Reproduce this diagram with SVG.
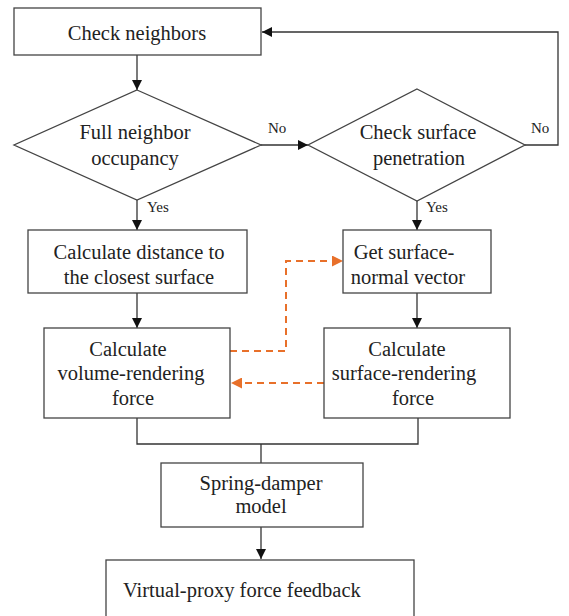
<svg xmlns="http://www.w3.org/2000/svg" width="569" height="616" viewBox="0 0 569 616">
<style>
.box{fill:#fff;stroke:#444;stroke-width:1.3}
.t{font-family:"Liberation Serif","Times New Roman",serif;font-size:20.5px;fill:#222;text-anchor:middle}
.s{font-family:"Liberation Serif","Times New Roman",serif;font-size:15px;fill:#222}
.ln{fill:none;stroke:#333;stroke-width:1.3}
.dash{fill:none;stroke:#E8702A;stroke-width:2;stroke-dasharray:7,5}
</style>
<defs>
<marker id="ah" viewBox="0 0 10 10" refX="10" refY="5" markerWidth="10" markerHeight="10" markerUnits="userSpaceOnUse" orient="auto">
<path d="M0,0 L10,5 L0,10 Z" fill="#111"/>
</marker>
<marker id="ao" viewBox="0 0 10 10" refX="10" refY="5" markerWidth="11" markerHeight="11" markerUnits="userSpaceOnUse" orient="auto">
<path d="M0,0 L10,5 L0,10 Z" fill="#E8702A"/>
</marker>
</defs>
<rect width="569" height="616" fill="#fff"/>
<g id="connectors">
<line class="ln" x1="137" y1="55" x2="137" y2="90" marker-end="url(#ah)"/>
<line class="ln" x1="261" y1="145" x2="308" y2="145" marker-end="url(#ah)"/>
<polyline class="ln" points="525,145 558,145 558,32 262,32" marker-end="url(#ah)"/>
<line class="ln" x1="137" y1="200" x2="137" y2="230" marker-end="url(#ah)"/>
<line class="ln" x1="417" y1="201" x2="417" y2="230" marker-end="url(#ah)"/>
<line class="ln" x1="137" y1="293" x2="137" y2="328" marker-end="url(#ah)"/>
<line class="ln" x1="417" y1="293" x2="417" y2="328" marker-end="url(#ah)"/>
<polyline class="dash" points="230,351 286,351 286,261 343,261" marker-end="url(#ao)"/>
<line class="dash" x1="324" y1="383" x2="231" y2="383" marker-end="url(#ao)"/>
<polyline class="ln" points="137,418 137,444 418,444 418,418"/>
<line class="ln" x1="261" y1="444" x2="261" y2="463"/>
<line class="ln" x1="261" y1="527" x2="261" y2="559" marker-end="url(#ah)"/>
<text class="s" x="268" y="133">No</text>
<text class="s" x="531" y="133">No</text>
<text class="s" x="147" y="212">Yes</text>
<text class="s" x="426" y="212">Yes</text>
</g>
<g id="check-neighbors">
<rect class="box" x="14" y="8" width="247" height="47"/>
<text class="t" x="137" y="40">Check neighbors</text>
</g>
<g id="full-neighbor">
<polygon class="box" points="137,90 261,145 137,200 14,145"/>
<text class="t" x="135" y="139">Full neighbor</text>
<text class="t" x="135" y="165">occupancy</text>
</g>
<g id="check-surface">
<polygon class="box" points="417,89 525,145 417,201 308,145"/>
<text class="t" x="418" y="139">Check surface</text>
<text class="t" x="419" y="165">penetration</text>
</g>
<g id="calc-distance">
<rect class="box" x="28" y="230" width="219" height="63"/>
<text class="t" x="139" y="259">Calculate distance to</text>
<text class="t" x="139" y="284">the closest surface</text>
</g>
<g id="get-normal">
<rect class="box" x="343" y="230" width="148" height="63"/>
<text class="t" x="404" y="259">Get surface-</text>
<text class="t" x="408" y="284">normal vector</text>
</g>
<g id="calc-volume">
<rect class="box" x="44" y="328" width="186" height="90"/>
<text class="t" x="128" y="356">Calculate</text>
<text class="t" x="131" y="380">volume-rendering</text>
<text class="t" x="133" y="405">force</text>
</g>
<g id="calc-surface">
<rect class="box" x="324" y="328" width="186" height="90"/>
<text class="t" x="407" y="356">Calculate</text>
<text class="t" x="404" y="380">surface-rendering</text>
<text class="t" x="413" y="405">force</text>
</g>
<g id="spring-damper">
<rect class="box" x="161" y="463" width="202" height="64"/>
<text class="t" x="261" y="490">Spring-damper</text>
<text class="t" x="261" y="513">model</text>
</g>
<g id="virtual-proxy">
<rect class="box" x="106" y="560" width="308" height="70"/>
<text class="t" x="123" y="597" style="text-anchor:start">Virtual-proxy force feedback</text>
</g>
</svg>
